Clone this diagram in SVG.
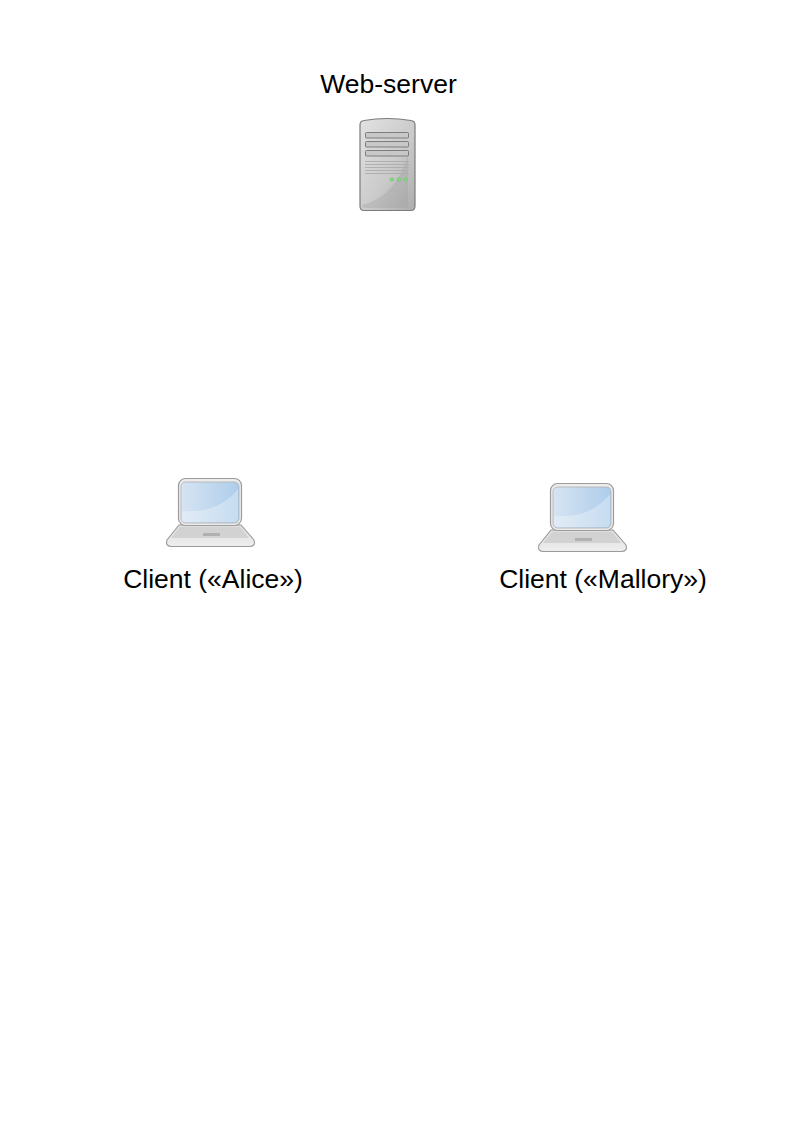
<svg xmlns="http://www.w3.org/2000/svg" width="794" height="1123" viewBox="0 0 794 1123">
<style>
text{font-family:"Liberation Sans",Arial,sans-serif;font-size:26.5px;fill:#000;text-anchor:middle}
.slot{fill:#c8c8c8;stroke:#7c7c7c;stroke-width:1}
.vent{stroke:#ababab;stroke-width:.9;fill:none}
.led{fill:#7fdc7f;stroke:#6cc46c;stroke-width:.6}
.lid{fill:#ececec;stroke:#9c9c9c;stroke-width:1.200}
.screen{fill:url(#scr);stroke:#b0b0b0;stroke-width:.8}
.glare{fill:#fff;opacity:.3}
.base{fill:url(#bs);stroke:#9a9a9a;stroke-width:1.100}
.deck{fill:#d2d2d2}
.pad{fill:#b0b0b0}
</style>
<defs>
<linearGradient id="srv" x1="0" y1="0" x2="1" y2="1"><stop offset="0" stop-color="#e2e2e2"/><stop offset=".55" stop-color="#cbcbcb"/><stop offset="1" stop-color="#acacac"/></linearGradient>
<linearGradient id="scr" x1="0" y1="0" x2="1" y2="0"><stop offset="0" stop-color="#d6e4f3"/><stop offset="1" stop-color="#aecdea"/></linearGradient>
<linearGradient id="bs" x1="0" y1="0" x2="0" y2="1"><stop offset="0" stop-color="#dedede"/><stop offset="1" stop-color="#eeeeee"/></linearGradient>
<g id="laptop">
<path class="base" d="M179 525H241L254 540Q256 546 250 546.500H171Q165 546 167 540Z"/>
<path class="deck" d="M180 527H240L249 538H171Z"/>
<rect class="pad" x="203" y="533" width="17" height="3"/>
<rect class="lid" x="178.500" y="478.500" width="63" height="47" rx="7"/>
<rect class="screen" x="181" y="482" width="58" height="41" rx="4.500"/>
<path class="glare" d="M182 511Q218 514 238 489V518Q238 522 234 522H186Q182 522 182 518Z"/>
</g>
</defs>
<g id="connectors"/>
<g id="web-server">
<text x="388.500" y="93">Web-server</text>
<path d="M360 125Q360 121 364 120.500Q387 116.500 411 120.500Q415 121 415 125V206Q415 210.500 411 210.500H364Q360 210.500 360 206Z" fill="url(#srv)" stroke="#7c7c7c" stroke-width="1.200"/>
<path d="M362 205Q385 200 400 175Q405 165 408 155V205Q408 208 405 208H365Q362 208 362 205Z" fill="#9a9a9a" opacity=".3"/>
<rect class="slot" x="365.500" y="132.500" width="43" height="5.500" rx="1"/>
<rect class="slot" x="365.500" y="141.500" width="43" height="5.500" rx="1"/>
<rect class="slot" x="365.500" y="150.500" width="43" height="5.500" rx="1"/>
<path class="vent" d="M365 161.500H409M365 164.500H409M365 167.500H409M365 170.500H409M365 173.500H409"/>
<circle class="led" cx="392" cy="179.500" r="1.700"/>
<circle class="led" cx="399" cy="179.500" r="1.700"/>
<circle class="led" cx="406" cy="179.500" r="1.700"/>
</g>
<g id="client-alice">
<use href="#laptop"/>
<text x="213" y="588">Client («Alice»)</text>
</g>
<g id="client-mallory">
<use href="#laptop" transform="translate(372 5)"/>
<text x="603" y="588">Client («Mallory»)</text>
</g>
</svg>
